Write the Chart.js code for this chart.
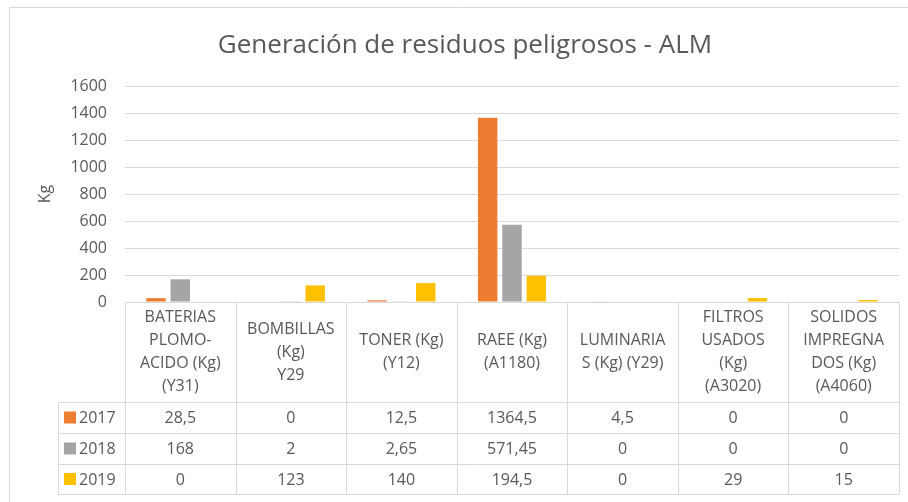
<!DOCTYPE html>
<html>
<head>
<meta charset="utf-8">
<script src="https://cdn.jsdelivr.net/npm/chart.js@4.4.0/dist/chart.umd.min.js"></script>
<style>
  html, body { margin: 0; padding: 0; background: #fff; }
  #wrap { width: 908px; height: 502px; position: relative; }
</style>
</head>
<body>
<div id="wrap"><canvas id="residuosChart" width="908" height="502"></canvas></div>
<script>
        // Data
        const categories = [
            ['BATERIAS', 'PLOMO-', 'ACIDO (Kg)', '(Y31)'],
            ['BOMBILLAS', '(Kg)', 'Y29'],
            ['TONER (Kg)', '(Y12)'],
            ['RAEE (Kg)', '(A1180)'],
            ['LUMINARIA', 'S (Kg) (Y29)'],
            ['FILTROS', 'USADOS', '(Kg)', '(A3020)'],
            ['SOLIDOS', 'IMPREGNA', 'DOS (Kg)', '(A4060)']
        ];
        const years = ['2017', '2018', '2019'];
        const values2017 = [28.5, 0, 12.5, 1364.5, 4.5, 0, 0];
        const values2018 = [168, 2, 2.65, 571.45, 0, 0, 0];
        const values2019 = [0, 123, 140, 194.5, 0, 29, 15];
        const yTicks = [0, 200, 400, 600, 800, 1000, 1200, 1400, 1600];

        const colors = ['#ED7D31', '#A5A5A5', '#FFC000'];
        const textColor = '#595959';
        const lineColor = '#D9D9D9';
        const fontFamily = "'Open Sans', sans-serif";

        // Frame, title and the data table under the plot
        const tablePlugin = {
            id: 'dataTable',
            afterDraw(chart) {
                const ctx = chart.ctx;
                const area = chart.chartArea;
                const xScale = chart.scales.x;
                const colW = (area.right - area.left) / categories.length;
                const top = area.bottom;
                const rowY = [top, 402, 433, 464, 494];
                const legendLeft = 58;

                ctx.save();
                // frame
                ctx.strokeStyle = lineColor;
                ctx.lineWidth = 1;
                ctx.beginPath();
                ctx.moveTo(9.5, 502);
                ctx.lineTo(9.5, 7.5);
                ctx.lineTo(908, 7.5);
                ctx.stroke();

                // title
                ctx.fillStyle = textColor;
                ctx.font = `26px ${fontFamily}`;
                ctx.textAlign = 'center';
                ctx.textBaseline = 'middle';
                ctx.fillText('Generación de residuos peligrosos - ALM', 465, 46);

                // table lines
                ctx.beginPath();
                ctx.moveTo(area.left, top + 0.5);
                ctx.lineTo(area.right, top + 0.5);
                for (let r = 1; r < rowY.length; r++) {
                    ctx.moveTo(legendLeft, rowY[r] + 0.5);
                    ctx.lineTo(area.right, rowY[r] + 0.5);
                }
                ctx.moveTo(legendLeft + 0.5, rowY[1]);
                ctx.lineTo(legendLeft + 0.5, rowY[4]);
                for (let c = 0; c <= categories.length; c++) {
                    const x = Math.round(area.left + c * colW) + 0.5;
                    ctx.moveTo(x, top);
                    ctx.lineTo(x, rowY[4]);
                }
                ctx.stroke();

                // header labels
                ctx.font = `16px ${fontFamily}`;
                ctx.fillStyle = textColor;
                const lineH = 23;
                const headMid = (rowY[0] + rowY[1]) / 2;
                categories.forEach((lines, i) => {
                    const cx = xScale.getPixelForValue(i);
                    const startY = headMid - (lines.length - 1) * lineH / 2;
                    lines.forEach((ln, k) => ctx.fillText(ln, cx, startY + k * lineH));
                });

                // rows
                const series = [values2017, values2018, values2019];
                series.forEach((vals, r) => {
                    const midY = (rowY[r + 1] + rowY[r + 2]) / 2;
                    ctx.fillStyle = colors[r];
                    ctx.fillRect(64, midY - 6, 12, 12);
                    ctx.fillStyle = textColor;
                    ctx.textAlign = 'left';
                    ctx.fillText(years[r], 79, midY + 1);
                    ctx.textAlign = 'center';
                    vals.forEach((v, i) => {
                        ctx.fillText(String(v).replace('.', ','), xScale.getPixelForValue(i), midY + 1);
                    });
                });
                ctx.restore();
            }
        };

        const ctx = document.getElementById('residuosChart').getContext('2d');
        const residuosChart = new Chart(ctx, {
            type: 'bar',
            data: {
                labels: categories,
                datasets: years.map((y, i) => ({
                    label: y,
                    data: [values2017, values2018, values2019][i],
                    backgroundColor: colors[i],
                    borderWidth: 0,
                    categoryPercentage: 0.66,
                    barPercentage: 0.8
                }))
            },
            options: {
                responsive: false,
                animation: false,
                devicePixelRatio: 1,
                layout: {
                    padding: { left: 0, right: 9, top: 86, bottom: 200 }
                },
                plugins: {
                    legend: { display: false },
                    title: { display: false },
                    tooltip: { enabled: false }
                },
                scales: {
                    x: {
                        display: false
                    },
                    y: {
                        min: 0,
                        max: 1600,
                        afterBuildTicks(scale) {
                            scale.ticks = yTicks.map(v => ({ value: v }));
                        },
                        afterFit(scale) {
                            scale.width = 125;
                        },
                        border: { display: false },
                        grid: {
                            color: lineColor,
                            lineWidth: 1,
                            drawTicks: false
                        },
                        ticks: {
                            padding: 18,
                            color: textColor,
                            font: { family: fontFamily, size: 16 },
                            callback: value => String(value)
                        },
                        title: {
                            display: true,
                            text: 'Kg',
                            color: textColor,
                            padding: { top: 36 },
                            font: { family: fontFamily, size: 16 }
                        }
                    }
                }
            },
            plugins: [tablePlugin]
        });
</script>
</body>
</html>
